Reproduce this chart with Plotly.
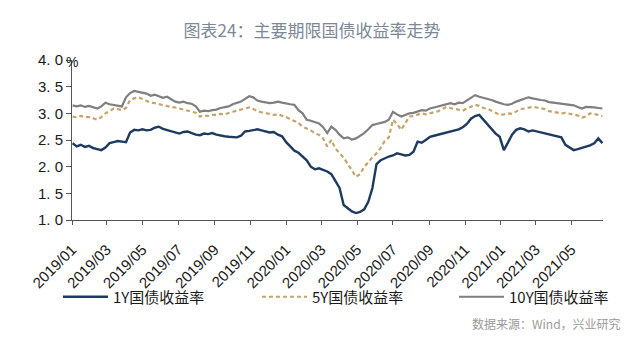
import pandas as pd
import plotly.graph_objects as go

# Weekly observations (Wednesdays), Jan 2019 - Jun 2021
dates = pd.date_range("2019-01-02", "2021-06-23", freq="7D")

# 1Y treasury yield (%)
y1 = [
    2.44, 2.38, 2.41, 2.37, 2.39,
    2.35, 2.33, 2.31, 2.36,
    2.44, 2.46, 2.48, 2.47,
    2.46, 2.64, 2.69, 2.68,
    2.70, 2.68, 2.69, 2.73, 2.75,
    2.71, 2.69, 2.66, 2.64,
    2.62, 2.65, 2.66, 2.63, 2.60,
    2.59, 2.62, 2.61, 2.63,
    2.60, 2.58, 2.57, 2.56,
    2.55, 2.55, 2.58, 2.66, 2.67,
    2.69, 2.70, 2.68, 2.66,
    2.64, 2.65, 2.60, 2.57,
    2.46, 2.38, 2.30, 2.26, 2.19,
    2.12, 2.00, 1.95, 1.97,
    1.94, 1.91, 1.86, 1.74,
    1.60, 1.28, 1.22, 1.16, 1.13,
    1.15, 1.20, 1.34, 1.60,
    2.05, 2.12, 2.16, 2.19,
    2.21, 2.25, 2.23, 2.21, 2.22,
    2.28, 2.47, 2.45, 2.50,
    2.56, 2.58, 2.60, 2.62, 2.63,
    2.65, 2.68, 2.70, 2.74,
    2.80, 2.90, 2.95, 2.97,
    2.88, 2.80, 2.69, 2.62, 2.56,
    2.31, 2.45, 2.60, 2.69,
    2.72, 2.70, 2.66, 2.68,
    2.66, 2.65, 2.63, 2.60, 2.58,
    2.56, 2.55, 2.41, 2.36,
    2.31, 2.33, 2.35, 2.38,
    2.40, 2.44, 2.53, 2.44,
]

# 5Y treasury yield (%)
y5 = [
    2.94, 2.92, 2.95, 2.93, 2.93,
    2.90, 2.88, 2.93, 3.00,
    3.04, 3.09, 3.08, 3.06,
    3.10, 3.25, 3.28, 3.30,
    3.27, 3.24, 3.20, 3.19, 3.17,
    3.15, 3.14, 3.12, 3.11,
    3.09, 3.07, 3.06, 3.04, 3.01,
    2.94, 2.96, 2.95, 2.97,
    2.97, 2.99, 2.98, 3.01,
    3.03, 3.05, 3.07, 3.09, 3.11,
    3.08, 3.04, 3.02, 3.00,
    2.99, 2.97, 2.98, 2.96,
    2.93, 2.89, 2.86, 2.82, 2.75,
    2.72, 2.68, 2.62, 2.60,
    2.53, 2.38, 2.50, 2.34,
    2.25, 2.17, 2.05, 1.94, 1.81,
    1.86, 2.00, 2.08, 2.18,
    2.25, 2.35, 2.48, 2.55,
    2.88, 2.80, 2.69, 2.82, 2.94,
    2.95, 2.97, 3.00, 2.98,
    3.00, 3.03, 3.04, 3.08, 3.12,
    3.10, 3.08, 3.06, 3.05,
    3.09, 3.12, 3.16, 3.14,
    3.10, 3.09, 3.05, 3.01, 2.97,
    2.98, 3.00, 2.99, 3.04,
    3.08, 3.09, 3.11, 3.12,
    3.11, 3.10, 3.08, 3.04, 3.03,
    3.02, 3.00, 3.01, 2.99,
    2.97, 2.96, 2.92, 2.94,
    3.00, 2.99, 2.97, 2.95,
]

# 10Y treasury yield (%)
y10 = [
    3.15, 3.13, 3.15, 3.12, 3.14,
    3.11, 3.09, 3.13, 3.20,
    3.17, 3.16, 3.14, 3.13,
    3.30, 3.38, 3.42, 3.40,
    3.39, 3.37, 3.33, 3.35, 3.32,
    3.29, 3.31, 3.27, 3.22,
    3.20, 3.22, 3.19, 3.18, 3.13,
    3.03, 3.05, 3.04, 3.06,
    3.07, 3.10, 3.12, 3.13,
    3.17, 3.19, 3.22, 3.27, 3.32,
    3.30, 3.24, 3.22, 3.20,
    3.19, 3.20, 3.22, 3.20,
    3.18, 3.17, 3.16, 3.06, 3.00,
    2.88, 2.86, 2.84, 2.81,
    2.74, 2.63, 2.75, 2.69,
    2.60, 2.53, 2.55, 2.51, 2.53,
    2.58, 2.63, 2.70, 2.78,
    2.80, 2.82, 2.84, 2.88,
    3.03, 2.98, 2.94, 2.97, 3.00,
    3.01, 3.03, 3.06, 3.05,
    3.09, 3.11, 3.13, 3.15, 3.18,
    3.19, 3.17, 3.20, 3.19,
    3.24, 3.28, 3.34, 3.31,
    3.29, 3.28, 3.25, 3.22, 3.19,
    3.17, 3.16, 3.18, 3.22,
    3.25, 3.27, 3.30, 3.28,
    3.26, 3.25, 3.24, 3.21, 3.20,
    3.19, 3.18, 3.18, 3.16,
    3.15, 3.12, 3.09, 3.12,
    3.12, 3.11, 3.10, 3.09,
]

series_names = ["1Y国债收益率", "5Y国债收益率", "10Y国债收益率"]
y_ticks = [1.0, 1.5, 2.0, 2.5, 3.0, 3.5, 4.0]
y_ticktext = ["1. 0", "1. 5", "2. 0", "2. 5", "3. 0", "3. 5", "4. 0"]

fig = go.Figure()
fig.add_trace(go.Scatter(
    x=dates, y=y1, name=series_names[0], mode="lines",
    line=dict(color="#1e3a5f", width=2.4), legend="legend",
))
fig.add_trace(go.Scatter(
    x=dates, y=y5, name=series_names[1], mode="lines",
    line=dict(color="#c4a46a", width=2.2, dash="4px,3px"), legend="legend2",
))
fig.add_trace(go.Scatter(
    x=dates, y=y10, name=series_names[2], mode="lines",
    line=dict(color="#7f7f7f", width=2.2), legend="legend3",
))

legend_font = dict(family="Noto Sans CJK SC", size=15, color="#1a1a1a")


def legend_box(left_px):
    # one single-entry legend per series, placed along the bottom row
    return dict(
        orientation="h", xref="container", yref="container",
        x=left_px / 640, xanchor="left",
        y=1 - 297 / 339, yanchor="middle",
        itemwidth=45, font=legend_font, bgcolor="rgba(0,0,0,0)",
    )


fig.update_layout(
    width=640, height=339,
    margin=dict(l=72, r=37, t=60, b=119, autoexpand=False),
    paper_bgcolor="white", plot_bgcolor="white",
    font=dict(family="Liberation Sans, Arial, sans-serif", color="#1a1a1a"),
    title=dict(
        text="图表24：主要期限国债收益率走势",
        x=312 / 640, xanchor="center", y=1 - 31 / 339, yanchor="middle",
        font=dict(family="Noto Sans CJK SC", size=17, color="#7d8896"),
    ),
    xaxis=dict(
        type="date",
        range=["2019-01-01", "2021-06-24"],
        tick0="2019-01-01", dtick="M2", tickformat="%Y/%m",
        tickangle=-45,
        ticks="outside", ticklen=4, tickcolor="#555",
        ticklabelstandoff=10,
        showline=True, linecolor="#555", linewidth=1,
        showgrid=False, zeroline=False, automargin=False,
        tickfont=dict(size=15, color="#1a1a1a"),
    ),
    yaxis=dict(
        range=[1.0, 4.0],
        tickvals=y_ticks, ticktext=y_ticktext,
        ticks="outside", ticklen=5, tickcolor="#555",
        showline=True, linecolor="#555", linewidth=1,
        showgrid=False, zeroline=False, automargin=False,
        tickfont=dict(size=15, color="#1a1a1a"),
    ),
    showlegend=True,
    legend=legend_box(58),
    legend2=legend_box(257),
    legend3=legend_box(454),
    annotations=[
        dict(
            text="%", xref="paper", yref="paper",
            x=0, y=1, xanchor="left", yanchor="middle", xshift=-8, yshift=-2,
            showarrow=False, font=dict(size=14, color="#1a1a1a"),
        ),
        dict(
            text="数据来源：Wind，兴业研究",
            xref="paper", yref="paper",
            x=1, xanchor="right", xshift=20,
            y=0, yanchor="middle", yshift=-(323 - 220),
            showarrow=False,
            font=dict(family="Noto Sans CJK SC", size=12, color="#9a9a9a"),
        ),
    ],
)

fig.write_html("out.html")
